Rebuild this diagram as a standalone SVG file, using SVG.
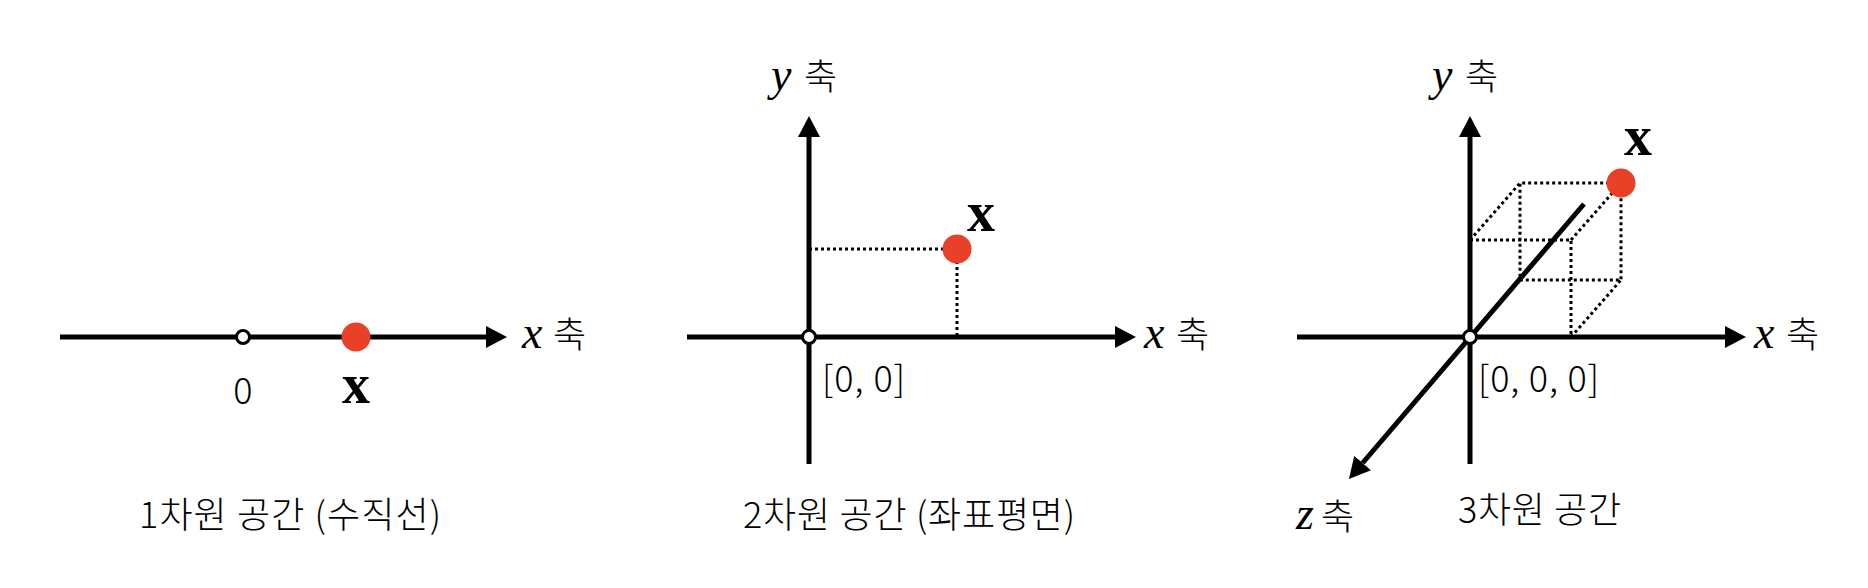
<svg xmlns="http://www.w3.org/2000/svg" width="1868" height="588" viewBox="0 0 1868 588">
<style>
.ax{stroke:#000;stroke-width:5;fill:none}
.dot{stroke:#000;stroke-width:3;stroke-dasharray:3 3;fill:none}
.org{fill:#fff;stroke:#000;stroke-width:3}
.pt{fill:#E94128}
.ko{font-family:"Noto Sans CJK KR","Noto Sans",sans-serif;font-size:36px;font-weight:300;fill:#000}
.mi{font-family:"Liberation Serif",serif;font-style:italic;font-size:46px;fill:#000}
.bx{font-family:"Liberation Serif",serif;font-weight:bold;font-size:56px;fill:#000}
</style>
<defs>
<marker id="arr" markerUnits="userSpaceOnUse" viewBox="0 0 21 22" markerWidth="21" markerHeight="22" refX="0" refY="11" orient="auto">
<path d="M0,0 L21,11 L0,22 z" fill="#000"/>
</marker>
</defs>
<g id="connectors">
<line class="ax" x1="60" y1="337" x2="486" y2="337" marker-end="url(#arr)"/>
<line class="dot" x1="809" y1="249" x2="957" y2="249"/>
<line class="dot" x1="957" y1="249" x2="957" y2="337"/>
<line class="ax" x1="687" y1="337" x2="1115" y2="337" marker-end="url(#arr)"/>
<line class="ax" x1="809" y1="464" x2="809" y2="137" marker-end="url(#arr)"/>
<path class="dot" d="M1470,240 L1571,240 L1571,337 M1470,240 L1520,183 L1621,183 L1621,280 L1520,280 L1520,183 M1571,240 L1621,183 M1571,337 L1621,280"/>
<line class="ax" x1="1297" y1="337" x2="1725" y2="337" marker-end="url(#arr)"/>
<line class="ax" x1="1470" y1="464" x2="1470" y2="137" marker-end="url(#arr)"/>
<line class="ax" x1="1584" y1="204" x2="1362.6" y2="463" marker-end="url(#arr)"/>
</g>
<g id="panel1">
<circle class="org" cx="243" cy="337" r="6.5"/>
<circle class="pt" cx="356" cy="337" r="14.5"/>
<text class="ko" x="243" y="404" text-anchor="middle">0</text>
<text class="bx" x="356" y="403" text-anchor="middle">x</text>
<text><tspan class="mi" x="522" y="348">x</tspan><tspan class="ko" x="553" y="348">축</tspan></text>
<text class="ko" x="139" y="528" textLength="302" lengthAdjust="spacing">1차원 공간 (수직선)</text>
</g>
<g id="panel2">
<circle class="org" cx="809" cy="337" r="6.5"/>
<circle class="pt" cx="957" cy="249" r="14.5"/>
<text class="bx" x="981" y="231" text-anchor="middle">x</text>
<text><tspan class="mi" x="771" y="90">y</tspan><tspan class="ko" x="804" y="90">축</tspan></text>
<text><tspan class="mi" x="1144" y="348">x</tspan><tspan class="ko" x="1176" y="348">축</tspan></text>
<text class="ko" x="822" y="392" textLength="83" lengthAdjust="spacing">[0, 0]</text>
<text class="ko" x="743" y="528" textLength="332" lengthAdjust="spacing">2차원 공간 (좌표평면)</text>
</g>
<g id="panel3">
<circle class="org" cx="1470" cy="337" r="6.5"/>
<circle class="pt" cx="1621" cy="183" r="14.5"/>
<text class="bx" x="1638" y="155" text-anchor="middle">x</text>
<text><tspan class="mi" x="1432" y="90">y</tspan><tspan class="ko" x="1465" y="90">축</tspan></text>
<text><tspan class="mi" x="1754" y="348">x</tspan><tspan class="ko" x="1786" y="348">축</tspan></text>
<text class="ko" x="1478" y="392" textLength="121" lengthAdjust="spacing">[0, 0, 0]</text>
<text><tspan class="mi" x="1296" y="529">z</tspan><tspan class="ko" x="1321" y="530">축</tspan></text>
<text class="ko" x="1458" y="523" textLength="163" lengthAdjust="spacing">3차원 공간</text>
</g>
</svg>
